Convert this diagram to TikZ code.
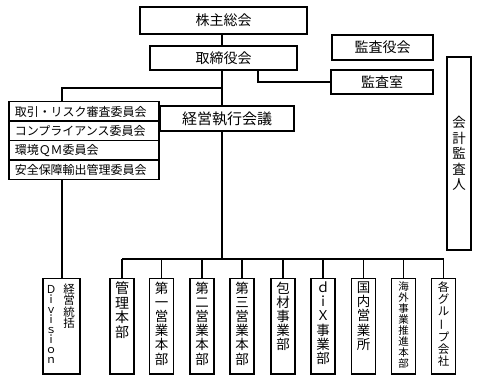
\documentclass[tikz,border=0pt]{standalone}
\usepackage{fontspec}
\setmainfont{Noto Sans CJK JP}
\usetikzlibrary{calc}
\tikzset{
  ln/.style={line width=1.4pt},
  bx/.style={draw, line width=1.5pt, inner sep=0pt, rectangle},
  tbox/.style={bx, font=\fontsize{14}{16}\selectfont},
  cbox/.style={bx, anchor=north west, minimum width=150pt, minimum height=19.5pt, text width=138pt, align=left, inner xsep=6pt, inner ysep=0pt, font=\fontsize{12}{13}\selectfont},
  vbox/.style={bx, anchor=north, minimum width=24pt, minimum height=95pt},
}
\newcommand\vcol[5]{\begin{minipage}[t][#1][t]{#2}\centering\fontsize{#3}{#4}\selectfont\vspace*{3pt}#5\end{minipage}}
\newcommand\vbar{\rotatebox[origin=c]{90}{ー}}
\begin{document}
\begin{tikzpicture}[x=1pt,y=-1pt]
\useasboundingbox (0,0) rectangle (477,382);
\fill[white] (0,0) rectangle (477,382);
% top
\node[tbox, minimum width=167pt, minimum height=27pt] (kabu) at (223.5,20.5) {株主総会};
\node[tbox, minimum width=147pt, minimum height=24pt] (tori) at (223.5,58) {取締役会};
\node[tbox, minimum width=101pt, minimum height=25pt] (kyaku) at (382.5,47.5) {監査役会};
\node[tbox, minimum width=102pt, minimum height=24pt] (kshitsu) at (382,82) {監査室};
\node[bx, minimum width=24pt, minimum height=193pt, align=center, font=\fontsize{13.5}{15.5}\selectfont] (kaikei) at (459,153.5) {会\\計\\監\\査\\人};
\node[bx, minimum width=134pt, minimum height=25pt, font=\fontsize{15}{17}\selectfont] (keiei) at (227,118.5) {経営執行会議};
% committees
\node[cbox] (c1) at (8,101) {取引・リスク審査委員会};
\node[cbox] (c2) at (8,120.5) {コンプライアンス委員会};
\node[cbox] (c3) at (8,140) {環境ＱＭ委員会};
\node[cbox] (c4) at (8,159.5) {安全保障輸出管理委員会};
% bottom row
\node[bx, anchor=north, minimum width=37pt, minimum height=95pt] (div) at (61.5,278) {%
  \begin{minipage}[t][95pt][t]{37pt}\vspace*{5pt}\hspace*{2pt}%
  \parbox[t]{12pt}{\centering\fontsize{11}{10}\selectfont Ｄ\\ｉ\\ｖ\\ｉ\\ｓ\\ｉ\\ｏ\\ｎ}\hspace{6pt}%
  \parbox[t]{12pt}{\centering\fontsize{11.5}{11.5}\selectfont 経\\営\\統\\括}\hfill\end{minipage}};
\node[vbox] (b1) at (122,278) {\vcol{95pt}{22pt}{14}{14.5}{管\\理\\本\\部}};
\node[vbox] (b2) at (161.5,278) {\vcol{95pt}{22pt}{13.5}{14.2}{第\\一\\営\\業\\本\\部}};
\node[vbox] (b3) at (202,278) {\vcol{95pt}{22pt}{13.5}{14.2}{第\\二\\営\\業\\本\\部}};
\node[vbox] (b4) at (242,278) {\vcol{95pt}{22pt}{13.5}{14.2}{第\\三\\営\\業\\本\\部}};
\node[vbox] (b5) at (283,278) {\vcol{95pt}{22pt}{13.5}{14.2}{包\\材\\事\\業\\部}};
\node[vbox] (b6) at (323,278) {\vcol{95pt}{22pt}{13.5}{14.2}{ｄ\\ｉ\\Ｘ\\事\\業\\部}};
\node[vbox] (b7) at (363.5,278) {\vcol{95pt}{22pt}{13.5}{14.2}{国\\内\\営\\業\\所}};
\node[vbox] (b8) at (403.5,278) {\vcol{95pt}{22pt}{10.5}{11}{海\\外\\事\\業\\推\\進\\本\\部}};
\node[vbox] (b9) at (443.5,278) {\vcol{95pt}{22pt}{11.5}{12}{各\\グ\\ル\\\vbar\\プ\\会\\社}};
% helper coordinates
\coordinate (sp) at (222,0);
\coordinate (au) at (258,0);
\coordinate (cm) at (62,0);
\coordinate (j) at (0,88);
\coordinate (bus) at (0,259);
% connectors
\draw[ln] (kabu.south -| sp) -- (tori.north -| sp);
\draw[ln] (tori.south -| sp) -- (keiei.north -| sp);
\draw[ln] (j -| sp) -| (c1.north -| cm);
\draw[ln] (tori.south -| au) |- (kshitsu.west);
\draw[ln] (keiei.south -| sp) -- (bus -| sp);
\draw[ln] (bus -| b1.north) -- (bus -| b9.north);
\foreach \b in {b1,b2,b3,b4,b5,b6,b7,b8,b9} \draw[ln] (bus -| \b.north) -- (\b.north);
\draw[ln] (c4.south -| cm) -- (div.north -| cm);
\end{tikzpicture}
\end{document}
